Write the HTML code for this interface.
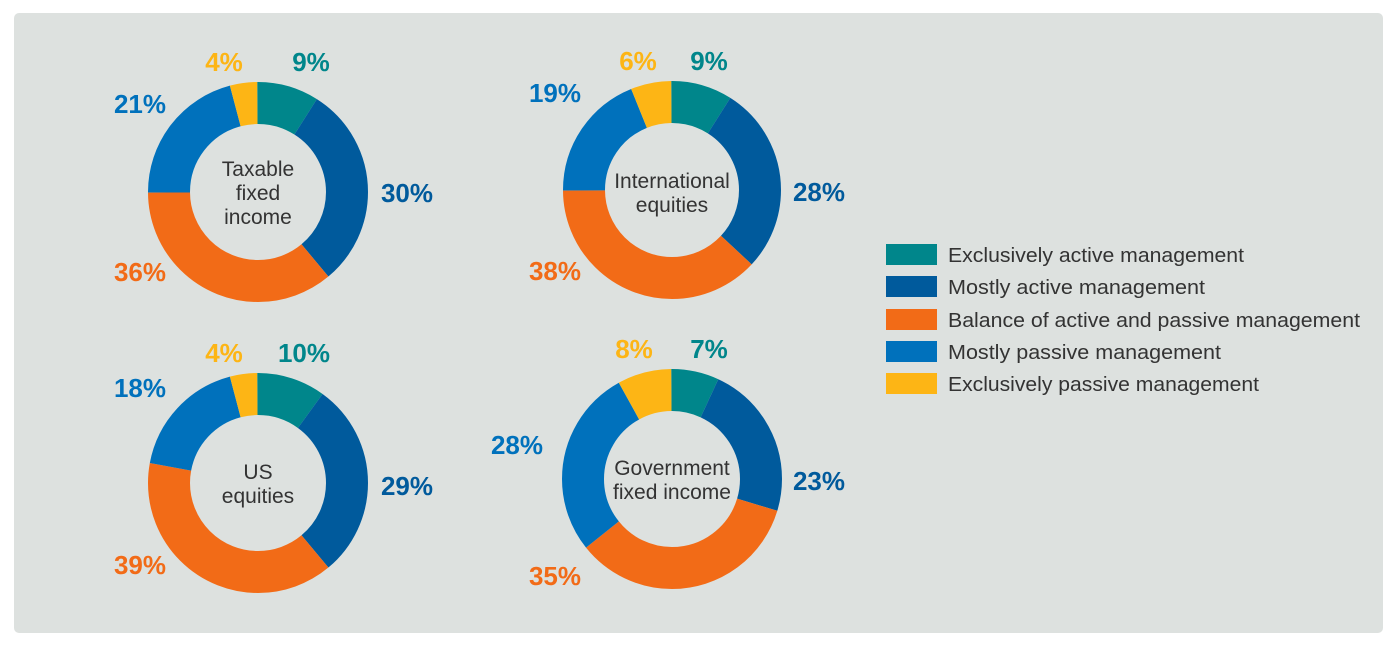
<!DOCTYPE html>
<html><head><meta charset="utf-8"><style>
html,body{margin:0;padding:0;background:#fff;width:1400px;height:647px;overflow:hidden}
svg{display:block}
text{font-family:"Liberation Sans",sans-serif}
.p{font-weight:bold;font-size:26px;text-anchor:middle}
.c{font-size:21px;fill:#333;text-anchor:middle}
.l{font-size:20px;fill:#333}
</style></head><body>
<svg width="1400" height="647" viewBox="0 0 1400 647">
<rect x="14" y="13" width="1369" height="620" rx="5" fill="#dde1df"/>
<g transform="translate(258,192) rotate(-90)" fill="none" stroke-width="42">
<circle r="89" pathLength="100" stroke="#00868b" stroke-dasharray="9 91" stroke-dashoffset="0"/>
<circle r="89" pathLength="100" stroke="#005a9c" stroke-dasharray="30 70" stroke-dashoffset="-9"/>
<circle r="89" pathLength="100" stroke="#f26b17" stroke-dasharray="36 64" stroke-dashoffset="-39"/>
<circle r="89" pathLength="100" stroke="#0071bc" stroke-dasharray="21 79" stroke-dashoffset="-75"/>
<circle r="89" pathLength="100" stroke="#fdb515" stroke-dasharray="4 96" stroke-dashoffset="-96"/>
</g>
<g transform="translate(672,190) rotate(-90)" fill="none" stroke-width="42">
<circle r="88" pathLength="100" stroke="#00868b" stroke-dasharray="9 91" stroke-dashoffset="0"/>
<circle r="88" pathLength="100" stroke="#005a9c" stroke-dasharray="28 72" stroke-dashoffset="-9"/>
<circle r="88" pathLength="100" stroke="#f26b17" stroke-dasharray="38 62" stroke-dashoffset="-37"/>
<circle r="88" pathLength="100" stroke="#0071bc" stroke-dasharray="19 81" stroke-dashoffset="-75"/>
<circle r="88" pathLength="100" stroke="#fdb515" stroke-dasharray="6 94" stroke-dashoffset="-94"/>
</g>
<g transform="translate(258,483) rotate(-90)" fill="none" stroke-width="42">
<circle r="89" pathLength="100" stroke="#00868b" stroke-dasharray="10 90" stroke-dashoffset="0"/>
<circle r="89" pathLength="100" stroke="#005a9c" stroke-dasharray="29 71" stroke-dashoffset="-10"/>
<circle r="89" pathLength="100" stroke="#f26b17" stroke-dasharray="39 61" stroke-dashoffset="-39"/>
<circle r="89" pathLength="100" stroke="#0071bc" stroke-dasharray="18 82" stroke-dashoffset="-78"/>
<circle r="89" pathLength="100" stroke="#fdb515" stroke-dasharray="4 96" stroke-dashoffset="-96"/>
</g>
<g transform="translate(672,479) rotate(-90)" fill="none" stroke-width="42">
<circle r="89" pathLength="101" stroke="#00868b" stroke-dasharray="7 94" stroke-dashoffset="0"/>
<circle r="89" pathLength="101" stroke="#005a9c" stroke-dasharray="23 78" stroke-dashoffset="-7"/>
<circle r="89" pathLength="101" stroke="#f26b17" stroke-dasharray="35 66" stroke-dashoffset="-30"/>
<circle r="89" pathLength="101" stroke="#0071bc" stroke-dasharray="28 73" stroke-dashoffset="-65"/>
<circle r="89" pathLength="101" stroke="#fdb515" stroke-dasharray="8 93" stroke-dashoffset="-93"/>
</g>
<text class="c" x="258" y="176">Taxable</text>
<text class="c" x="258" y="200">fixed</text>
<text class="c" x="258" y="224">income</text>
<text class="c" x="672" y="188">International</text>
<text class="c" x="672" y="212">equities</text>
<text class="c" x="258" y="479">US</text>
<text class="c" x="258" y="503">equities</text>
<text class="c" x="672" y="475">Government</text>
<text class="c" x="672" y="499">fixed income</text>
<g class="p">
<text x="224" y="71" fill="#fdb515">4%</text>
<text x="311" y="71" fill="#00868b">9%</text>
<text x="140" y="113" fill="#0071bc">21%</text>
<text x="407" y="202" fill="#005a9c">30%</text>
<text x="140" y="281" fill="#f26b17">36%</text>

<text x="638" y="70" fill="#fdb515">6%</text>
<text x="709" y="70" fill="#00868b">9%</text>
<text x="555" y="102" fill="#0071bc">19%</text>
<text x="819" y="201" fill="#005a9c">28%</text>
<text x="555" y="280" fill="#f26b17">38%</text>

<text x="224" y="362" fill="#fdb515">4%</text>
<text x="304" y="362" fill="#00868b">10%</text>
<text x="140" y="397" fill="#0071bc">18%</text>
<text x="407" y="495" fill="#005a9c">29%</text>
<text x="140" y="574" fill="#f26b17">39%</text>

<text x="634" y="358" fill="#fdb515">8%</text>
<text x="709" y="358" fill="#00868b">7%</text>
<text x="517" y="454" fill="#0071bc">28%</text>
<text x="819" y="490" fill="#005a9c">23%</text>
<text x="555" y="585" fill="#f26b17">35%</text>
</g>
<rect x="886" y="244" width="51" height="21" fill="#00868b"/>
<rect x="886" y="276" width="51" height="21" fill="#005a9c"/>
<rect x="886" y="309" width="51" height="21" fill="#f26b17"/>
<rect x="886" y="341" width="51" height="21" fill="#0071bc"/>
<rect x="886" y="373" width="51" height="21" fill="#fdb515"/>
<text class="l" x="948" y="262" textLength="296" lengthAdjust="spacingAndGlyphs">Exclusively active management</text>
<text class="l" x="948" y="294" textLength="257" lengthAdjust="spacingAndGlyphs">Mostly active management</text>
<text class="l" x="948" y="327" textLength="412" lengthAdjust="spacingAndGlyphs">Balance of active and passive management</text>
<text class="l" x="948" y="359" textLength="273" lengthAdjust="spacingAndGlyphs">Mostly passive management</text>
<text class="l" x="948" y="391" textLength="311" lengthAdjust="spacingAndGlyphs">Exclusively passive management</text>
</svg>
</body></html>
